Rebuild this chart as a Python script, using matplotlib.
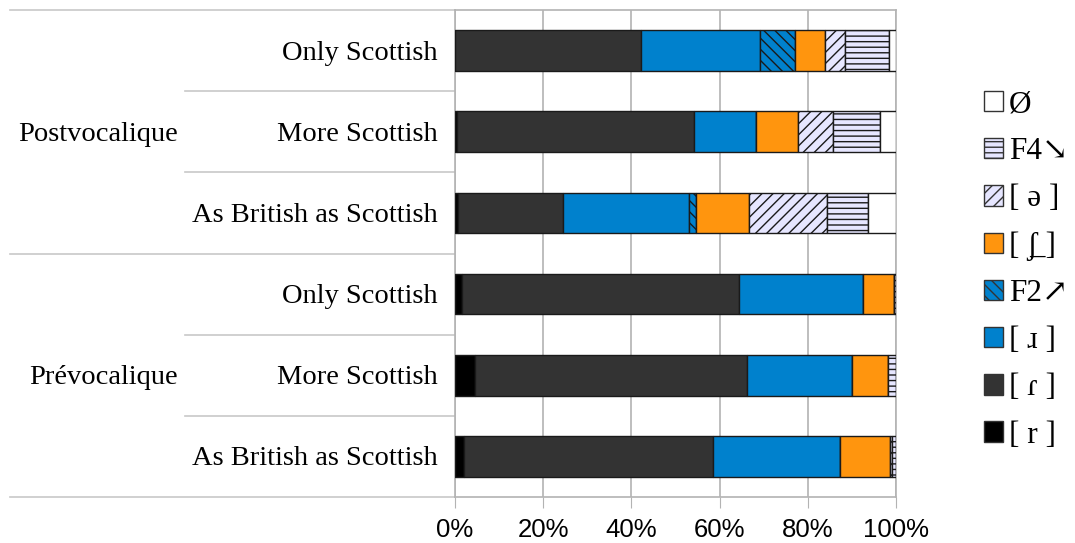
import numpy as np
import matplotlib.pyplot as plt
import matplotlib.transforms as mtransforms
from matplotlib.patches import Patch

plt.rcParams['font.family'] = ['Liberation Serif', 'DejaVu Serif']
plt.rcParams['hatch.linewidth'] = 1.0

# rows top to bottom
groups = ['Postvocalique', 'Prévocalique']
identities = ['Only Scottish', 'More Scottish', 'As British as Scottish']

# stacked shares (%) in drawing order, one value per row
r_trill = [0.0, 0.5, 0.6, 1.6, 4.5, 2.1]
r_tap = [42.2, 53.6, 23.8, 62.8, 61.6, 56.5]
r_approx = [27.0, 14.1, 28.7, 28.2, 24.0, 28.7]
f2_rise = [7.9, 0.0, 1.5, 0.0, 0.0, 0.0]
r_esh = [6.7, 9.6, 12.1, 6.9, 8.0, 11.3]
schwa = [4.6, 8.0, 17.7, 0.0, 0.0, 0.4]
f4_fall = [10.0, 10.6, 9.2, 0.5, 1.9, 1.0]
zero = [1.6, 3.6, 6.4, 0.2, 0.0, 0.0]

series = [
    ('[ r ]', r_trill, '#000000', None),
    ('[ ɾ ]', r_tap, '#333333', None),
    ('[ ɹ ]', r_approx, '#0081cd', None),
    ('F2↗', f2_rise, '#0081cd', '\\\\\\'),
    ('[ ʃ̲ ]', r_esh, '#ff950e', None),
    ('[ ə ]', schwa, '#e6e6ff', '///'),
    ('F4↘', f4_fall, '#e6e6ff', '---'),
    ('Ø', zero, '#ffffff', None),
]

fig = plt.figure(figsize=(10.75, 5.43), dpi=100)
ax = fig.add_axes([455 / 1075, 1 - 497 / 543, 441 / 1075, 487 / 543])

y = np.arange(6)
left = np.zeros(6)
handles = []
for name, vals, col, hatch in series:
    vals = np.array(vals)
    ax.barh(y, vals, left=left, height=0.5, color=col, edgecolor='#1a1a1a',
            linewidth=1.0, hatch=hatch, zorder=3)
    left += vals
    handles.append(Patch(facecolor=col, edgecolor='#333333', hatch=hatch,
                         linewidth=1.0, label=name))

ax.set_xlim(0, 100)
ax.set_ylim(5.5, -0.5)
ax.set_xticks(np.arange(0, 101, 20))
ax.set_xticklabels(['0%', '20%', '40%', '60%', '80%', '100%'],
                   family='Liberation Sans', fontsize=18.5)
ax.tick_params(axis='x', length=8, color='#b3b3b3', pad=7)
ax.set_yticks([])
ax.grid(axis='x', color='#b3b3b3', linewidth=1.2, zorder=0)
for s in ax.spines.values():
    s.set_color('#b3b3b3')
    s.set_linewidth(1.2)

# category labels and separators on the left
trans = mtransforms.blended_transform_factory(ax.transAxes, ax.transData)
labels = identities * 2
for i, lab in enumerate(labels):
    ax.text(-0.0385, i + 0.03, lab, transform=trans, ha='right', va='center',
            fontsize=20.5)
for g, name in enumerate(groups):
    ax.text(-0.628, g * 3 + 1.03, name, transform=trans, ha='right',
            va='center', fontsize=20.5)
for b in np.arange(-0.5, 6, 1):
    x0 = -1.009 if b in (-0.5, 2.5, 5.5) else -0.612
    ax.plot([x0, 0], [b, b], transform=trans, color='#c8c8c8',
            linewidth=1.2, clip_on=False)

fig.legend(handles[::-1], [h.get_label() for h in handles[::-1]],
           loc='center left', bbox_to_anchor=(968 / 1075, 0.503),
           frameon=False, fontsize=22.5, handlelength=0.62,
           handleheight=0.62, handletextpad=0.2, labelspacing=0.58,
           borderpad=0)

fig.savefig('out.png', dpi=100)
